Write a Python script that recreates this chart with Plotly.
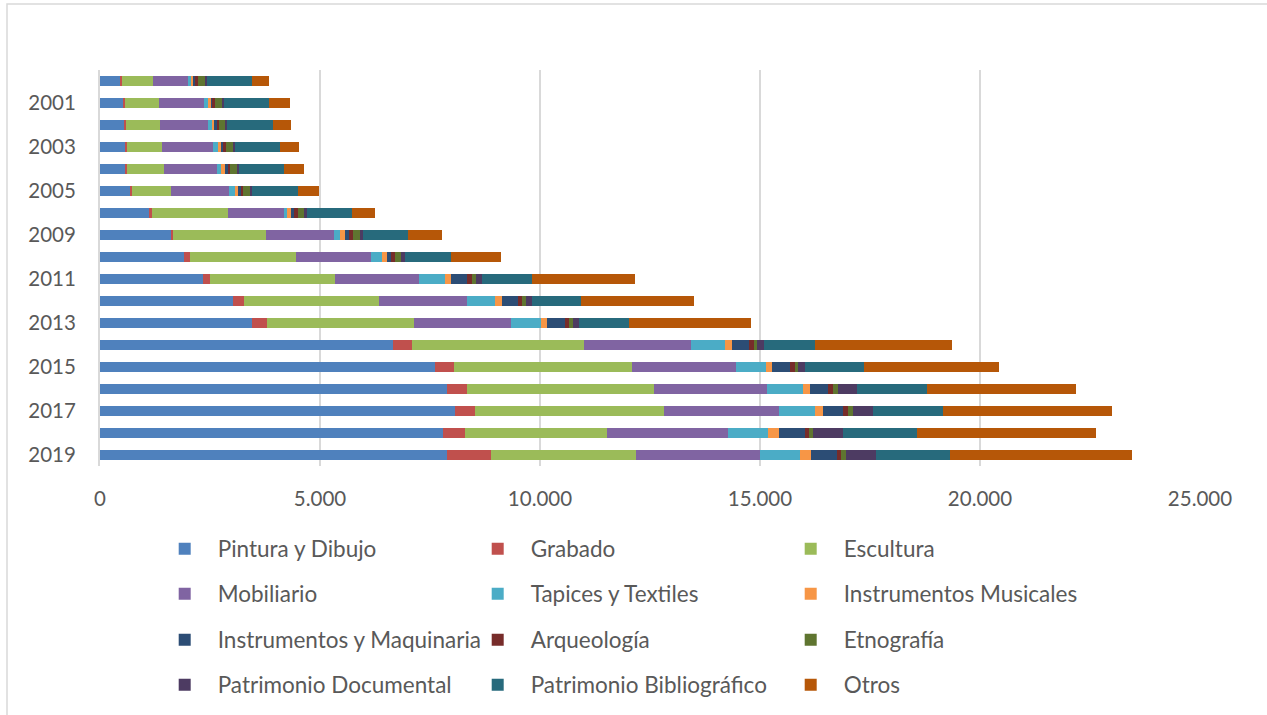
import plotly.graph_objects as go

years = ["2000", "2001", "2002", "2003", "2004", "2005", "2008", "2009", "2010",
         "2011", "2012", "2013", "2014", "2015", "2016", "2017", "2018", "2019"]
year_ticks = ["2001", "2003", "2005", "2009", "2011", "2013", "2015", "2017", "2019"]

pintura = [477, 530, 553, 583, 576, 682, 1136, 1606, 1902, 2348, 3030, 3462, 6659, 7614, 7894, 8076, 7803, 7879]
grabado = [30, 45, 30, 23, 38, 45, 45, 53, 152, 159, 250, 341, 424, 432, 447, 447, 500, 1008]
escultura = [690, 765, 773, 803, 833, 886, 1720, 2114, 2394, 2833, 3068, 3341, 3909, 4045, 4250, 4295, 3227, 3288]
mobiliario = [810, 1030, 1106, 1167, 1220, 1326, 1280, 1553, 1712, 1917, 2000, 2197, 2439, 2364, 2576, 2621, 2750, 2826]
tapices = [75, 106, 91, 98, 91, 136, 68, 136, 258, 591, 636, 682, 780, 682, 803, 818, 909, 909]
instr_musicales = [30, 38, 38, 76, 83, 53, 91, 106, 106, 129, 144, 144, 144, 144, 167, 174, 242, 250]
instr_maquinaria = [60, 53, 60, 53, 60, 68, 68, 83, 83, 371, 364, 394, 401, 401, 417, 462, 591, 598]
arqueologia = [45, 45, 60, 60, 53, 60, 91, 106, 106, 114, 106, 106, 114, 106, 114, 114, 98, 83]
etnografia = [180, 167, 144, 167, 152, 167, 144, 144, 136, 83, 76, 76, 68, 83, 98, 114, 76, 106]
patr_documental = [38, 45, 38, 38, 53, 38, 60, 68, 91, 129, 136, 144, 159, 152, 432, 455, 697, 689]
patr_bibliografico = [1023, 1023, 1038, 1023, 1030, 1030, 1030, 1030, 1030, 1136, 1129, 1129, 1144, 1348, 1591, 1591, 1682, 1689]
otros = [386, 470, 417, 424, 455, 492, 515, 773, 1136, 2348, 2561, 2780, 3129, 3053, 3386, 3841, 4061, 4136]

series = [
    ("Pintura y Dibujo", pintura, "#4F81BD"),
    ("Grabado", grabado, "#C0504D"),
    ("Escultura", escultura, "#9BBB59"),
    ("Mobiliario", mobiliario, "#8064A2"),
    ("Tapices y Textiles", tapices, "#4BACC6"),
    ("Instrumentos Musicales", instr_musicales, "#F79646"),
    ("Instrumentos y Maquinaria", instr_maquinaria, "#2C4D75"),
    ("Arqueología", arqueologia, "#772C2A"),
    ("Etnografía", etnografia, "#5F7530"),
    ("Patrimonio Documental", patr_documental, "#4D3B62"),
    ("Patrimonio Bibliográfico", patr_bibliografico, "#276A7C"),
    ("Otros", otros, "#B65708"),
]

FONT = "Lato"
TXT = "#595959"
legend_ids = ["legend", "legend2", "legend3", "legend4"]

fig = go.Figure()
for i, (name, vals, color) in enumerate(series):
    fig.add_trace(go.Bar(
        name=name, y=years, x=vals, orientation="h",
        marker=dict(color=color, line=dict(width=0)),
        legend=legend_ids[i // 3],
    ))

# plot area: x 100..1200 px, y 70..466 px
row_px = [549, 594, 640, 685]
legend_common = dict(orientation="h", xanchor="left", yanchor="middle",
                     x=0.047, entrywidth=242, entrywidthmode="pixels", itemwidth=56,
                     font=dict(family=FONT, size=22.5, color=TXT),
                     bgcolor="rgba(0,0,0,0)", traceorder="normal")
layout_legends = {}
for lid, py in zip(legend_ids, row_px):
    layout_legends[lid] = dict(legend_common, y=(466 - py) / 396)

fig.update_layout(
    width=1267, height=715,
    margin=dict(l=100, r=67, t=70, b=249, autoexpand=False),
    barmode="stack", bargap=0.59,
    plot_bgcolor="white", paper_bgcolor="white",
    separators=",.",
    font=dict(family=FONT, size=20, color=TXT),
    xaxis=dict(range=[0, 25000], tickvals=[0, 5000, 10000, 15000, 20000, 25000],
               tickformat=",", showgrid=True, gridcolor="#d9d9d9", gridwidth=2,
               zeroline=False, showline=False, ticks="", ticklabelstandoff=18,
               tickfont=dict(family=FONT, size=20.5, color=TXT)),
    yaxis=dict(type="category", categoryorder="array", categoryarray=years,
               autorange="reversed", tickvals=year_ticks, showgrid=False,
               showline=True, linecolor="#d9d9d9", linewidth=2, ticks="",
               ticklabelstandoff=18, tickfont=dict(family=FONT, size=20.5, color=TXT)),
    shapes=[dict(type="rect", xref="paper", yref="paper",
                 x0=(7 - 100) / 1100, x1=(1275 - 100) / 1100,
                 y0=(466 - 725) / 396, y1=(466 - 4) / 396,
                 line=dict(color="#d9d9d9", width=1.5), fillcolor="rgba(0,0,0,0)", layer="below")],
    **layout_legends,
)

fig.write_html("out.html", config={"displayModeBar": False},
               post_script="document.body.style.margin='0';")
